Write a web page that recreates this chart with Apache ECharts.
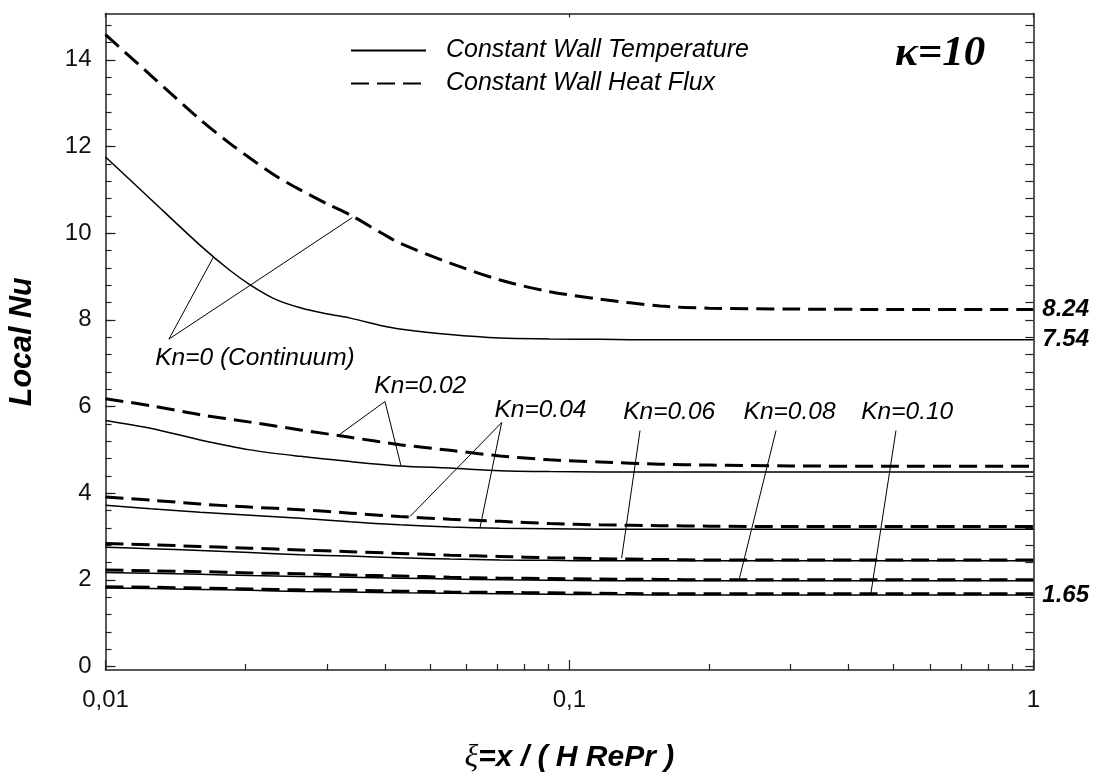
<!DOCTYPE html>
<html>
<head>
<meta charset="utf-8">
<title>Local Nusselt number, κ=10</title>
<script src="https://cdn.jsdelivr.net/npm/echarts@6/dist/echarts.min.js"></script>
<style>
  html, body { margin: 0; padding: 0; background: #fff; }
  #chart { width: 1101px; height: 774px; }
</style>
</head>
<body>
<div id="chart"></div>
<script>
// Axial coordinate ξ for the continuum curves (denser near the entrance)
const xiContinuum = [0.01, 0.0125, 0.016, 0.0185, 0.0205, 0.0232, 0.0263, 0.03, 0.0337, 0.0397,
                     0.0431, 0.0553, 0.0709, 0.0908, 0.1164, 0.157, 0.2, 0.3, 0.5, 1];
// Axial coordinate ξ for the slip-flow curves
const xiSlip = [0.01, 0.0125, 0.016, 0.0205, 0.0263, 0.0337, 0.0431, 0.0553, 0.0709, 0.0908,
                0.1164, 0.157, 0.2, 0.3, 0.5, 1];

// Kn = 0 (continuum)
const nuT_Kn0 = [11.76, 10.79, 9.72, 9.15, 8.81, 8.48, 8.28, 8.14, 8.04, 7.86,
                 7.79, 7.66, 7.58, 7.56, 7.55, 7.54, 7.54, 7.54, 7.54, 7.54];
const nuH_Kn0 = [14.58, 13.65, 12.62, 12.08, 11.73, 11.33, 11.0, 10.68, 10.42, 9.98,
                 9.77, 9.31, 8.92, 8.65, 8.48, 8.32, 8.27, 8.25, 8.24, 8.24];

// Slip flow, constant wall temperature
const nuT_Kn002 = [5.68, 5.50, 5.23, 5.00, 4.85, 4.73, 4.63, 4.58, 4.52, 4.50, 4.49, 4.49, 4.49, 4.49, 4.49, 4.49];
const nuT_Kn004 = [3.72, 3.64, 3.56, 3.49, 3.42, 3.34, 3.27, 3.22, 3.19, 3.18, 3.17, 3.17, 3.17, 3.17, 3.17, 3.17];
const nuT_Kn006 = [2.75, 2.72, 2.68, 2.63, 2.58, 2.55, 2.51, 2.48, 2.46, 2.45, 2.44, 2.44, 2.44, 2.44, 2.44, 2.44];
const nuT_Kn008 = [2.17, 2.15, 2.13, 2.10, 2.08, 2.06, 2.04, 2.02, 2.00, 1.99, 1.98, 1.98, 1.98, 1.98, 1.98, 1.98];
const nuT_Kn010 = [1.81, 1.80, 1.78, 1.76, 1.73, 1.72, 1.70, 1.69, 1.68, 1.67, 1.66, 1.65, 1.65, 1.65, 1.65, 1.65];

// Slip flow, constant wall heat flux
const nuH_Kn002 = [6.18, 6.02, 5.81, 5.64, 5.46, 5.29, 5.12, 4.99, 4.86, 4.77, 4.72, 4.67, 4.65, 4.63, 4.62, 4.62];
const nuH_Kn004 = [3.91, 3.84, 3.75, 3.68, 3.62, 3.54, 3.46, 3.40, 3.35, 3.30, 3.27, 3.25, 3.24, 3.23, 3.23, 3.23];
const nuH_Kn006 = [2.84, 2.81, 2.77, 2.73, 2.69, 2.65, 2.61, 2.57, 2.54, 2.51, 2.49, 2.47, 2.46, 2.46, 2.46, 2.46];
const nuH_Kn008 = [2.23, 2.21, 2.19, 2.16, 2.14, 2.11, 2.09, 2.06, 2.04, 2.03, 2.02, 2.01, 2.00, 2.00, 2.00, 2.00];
const nuH_Kn010 = [1.84, 1.83, 1.81, 1.79, 1.77, 1.76, 1.74, 1.72, 1.71, 1.70, 1.69, 1.68, 1.68, 1.68, 1.68, 1.68];

// Axis ticks and labels
const xMajorTicks = [0.01, 0.1, 1];
const xMinorTicks = [0.02, 0.03, 0.04, 0.05, 0.06, 0.07, 0.08, 0.09, 0.2, 0.3, 0.4, 0.5, 0.6, 0.7, 0.8, 0.9];
const yLabelTicks = [0, 2, 4, 6, 8, 10, 12, 14];
const yMinorTicks = [];
for (let i = 0; i <= 37; i++) yMinorTicks.push(Math.round(i * 0.4 * 10) / 10);
const fullyDevelopedNu = [8.24, 7.54, 1.65];

// Callout labels: text anchor and leader-line targets, in data units (ξ, Nu)
const callouts = [
  { text: 'Kn=0 (Continuum)', at: [0.021, 7.12],   apex: [0.0137, 7.556], to: [[0.01707, 9.44], [0.03404, 10.36]] },
  { text: 'Kn=0.02',          at: [0.0477, 6.47],  apex: [0.04004, 6.116], to: [[0.03203, 5.363], [0.04335, 4.632]] },
  { text: 'Kn=0.04',          at: [0.0866, 5.91],  apex: [0.07145, 5.63], to: [[0.04533, 3.462], [0.06417, 3.208]] },
  { text: 'Kn=0.06',          at: [0.1641, 5.87],  apex: [0.1420, 5.447], to: [[0.1296, 2.502]] },
  { text: 'Kn=0.08',          at: [0.2982, 5.87],  apex: [0.2789, 5.447], to: [[0.2321, 2.0]] },
  { text: 'Kn=0.10',          at: [0.5348, 5.87],  apex: [0.5058, 5.447], to: [[0.4467, 1.694]] }
];

const SANS = "'Liberation Sans', Arial, sans-serif";
const SERIF = "'Liberation Serif', 'Times New Roman', serif";
const T_NAME = 'Constant Wall Temperature';
const H_NAME = 'Constant Wall Heat Flux';

const zip = (xs, ys) => xs.map((x, i) => [x, ys[i]]);

const solidStyle = { color: '#000', width: 1.5, type: 'solid' };
const dashStyle = { color: '#000', width: 3, type: [18, 8] };

function curve(name, xs, ys, style) {
  return {
    name, type: 'line', data: zip(xs, ys),
    xAxisIndex: 0, yAxisIndex: 0,
    showSymbol: false, symbol: 'none', smooth: 0.3,
    lineStyle: style, itemStyle: { color: '#000' },
    emphasis: { disabled: true }, silent: true, z: 3
  };
}

const series = [
  curve(T_NAME, xiContinuum, nuT_Kn0, solidStyle),
  curve(H_NAME, xiContinuum, nuH_Kn0, dashStyle),
  curve(T_NAME, xiSlip, nuT_Kn002, solidStyle),
  curve(H_NAME, xiSlip, nuH_Kn002, dashStyle),
  curve(T_NAME, xiSlip, nuT_Kn004, solidStyle),
  curve(H_NAME, xiSlip, nuH_Kn004, dashStyle),
  curve(T_NAME, xiSlip, nuT_Kn006, solidStyle),
  curve(H_NAME, xiSlip, nuH_Kn006, dashStyle),
  curve(T_NAME, xiSlip, nuT_Kn008, solidStyle),
  curve(H_NAME, xiSlip, nuH_Kn008, dashStyle),
  curve(T_NAME, xiSlip, nuT_Kn010, solidStyle),
  curve(H_NAME, xiSlip, nuH_Kn010, dashStyle)
];

// Leader lines and callout texts ride on the first curve
const leaderLines = [];
callouts.forEach(c => c.to.forEach(p => leaderLines.push([{ coord: c.apex }, { coord: p }])));
series[0].markLine = {
  silent: true, symbol: ['none', 'none'], animation: false,
  lineStyle: { color: '#000', width: 1, type: 'solid' },
  label: { show: false },
  emphasis: { disabled: true },
  data: leaderLines
};
series[0].markPoint = {
  silent: true, animation: false,
  symbol: 'circle', symbolSize: 1,
  itemStyle: { color: 'transparent' },
  label: {
    show: true, position: 'inside', formatter: '{b}',
    fontFamily: SANS, fontStyle: 'italic', fontSize: 24.5, color: '#000'
  },
  data: callouts.map(c => ({ name: c.text, coord: c.at }))
};

const fmtXi = v => Number(Number(v).toPrecision(6)).toString().replace('.', ',');

const chart = echarts.init(document.getElementById('chart'), null, { renderer: 'canvas' });
chart.setOption({
  animation: false,
  backgroundColor: '#fff',
  title: {
    text: 'κ=10', left: 890, top: 27,
    textStyle: { fontFamily: SERIF, fontStyle: 'italic', fontWeight: 'bold', fontSize: 43, color: '#000' }
  },
  legend: {
    data: [T_NAME, H_NAME],
    orient: 'vertical', left: 345, top: 33,
    itemWidth: 75, itemHeight: 14, itemGap: 8,
    selectedMode: false,
    itemStyle: { opacity: 0, borderWidth: 0 },
    textStyle: { fontFamily: SANS, fontStyle: 'italic', fontSize: 25, color: '#000', padding: [0, 0, 0, 15] }
  },
  grid: { left: 105.5, right: 67.7, top: 13.5, bottom: 104, containLabel: false, outerBoundsMode: 'none' },
  xAxis: [
    {
      type: 'log', logBase: 10, min: 0.01, max: 1, position: 'bottom',
      name: '{g|ξ}=x / ( H RePr )', nameLocation: 'middle', nameGap: 72,
      nameTextStyle: {
        fontFamily: SANS, fontStyle: 'italic', fontWeight: 'bold', fontSize: 30, color: '#000',
        rich: { g: { fontFamily: SERIF, fontStyle: 'italic', fontWeight: 'normal', fontSize: 32, color: '#000' } }
      },
      axisLine: { onZero: false, lineStyle: { color: '#222', width: 1.5 } },
      axisTick: { inside: true, length: 10, customValues: xMajorTicks, lineStyle: { color: '#222', width: 1.2 } },
      axisLabel: { customValues: xMajorTicks, formatter: fmtXi, margin: 18, fontFamily: SANS, fontSize: 24, color: '#111' },
      splitLine: { show: false }
    },
    {
      type: 'log', logBase: 10, min: 0.01, max: 1, position: 'bottom',
      axisLine: { show: false, onZero: false },
      axisTick: { inside: true, length: 6, customValues: xMinorTicks, lineStyle: { color: '#222', width: 1.2 } },
      axisLabel: { show: false },
      splitLine: { show: false }
    },
    {
      type: 'log', logBase: 10, min: 0.01, max: 1, position: 'top',
      axisLine: { onZero: false, lineStyle: { color: '#222', width: 1.5 } },
      axisTick: { inside: true, length: 4, customValues: xMajorTicks, lineStyle: { color: '#222', width: 1.2 } },
      axisLabel: { show: false },
      splitLine: { show: false }
    }
  ],
  yAxis: [
    {
      type: 'value', min: -0.08, max: 15.07, position: 'left',
      name: 'Local Nu', nameLocation: 'middle', nameGap: 68, nameRotate: 90,
      nameTextStyle: { fontFamily: SANS, fontStyle: 'italic', fontWeight: 'bold', fontSize: 30.5, color: '#000' },
      axisLine: { onZero: false, lineStyle: { color: '#222', width: 1.5 } },
      axisTick: { inside: true, length: 10, customValues: yLabelTicks, lineStyle: { color: '#222', width: 1.2 } },
      axisLabel: { customValues: yLabelTicks, margin: 14, fontFamily: SANS, fontSize: 24, color: '#111' },
      splitLine: { show: false }
    },
    {
      type: 'value', min: -0.08, max: 15.07, position: 'left',
      axisLine: { show: false, onZero: false },
      axisTick: { inside: true, length: 6, customValues: yMinorTicks, lineStyle: { color: '#222', width: 1.2 } },
      axisLabel: { show: false },
      splitLine: { show: false }
    },
    {
      type: 'value', min: -0.08, max: 15.07, position: 'right',
      axisLine: { onZero: false, lineStyle: { color: '#222', width: 1.5 } },
      axisTick: { inside: true, length: 8, customValues: yMinorTicks, lineStyle: { color: '#222', width: 1.2 } },
      axisLabel: {
        customValues: fullyDevelopedNu, formatter: v => v.toFixed(2), margin: 9,
        fontFamily: SANS, fontStyle: 'italic', fontWeight: 'bold', fontSize: 24, color: '#000'
      },
      splitLine: { show: false }
    }
  ],
  series
});
</script>
</body>
</html>
